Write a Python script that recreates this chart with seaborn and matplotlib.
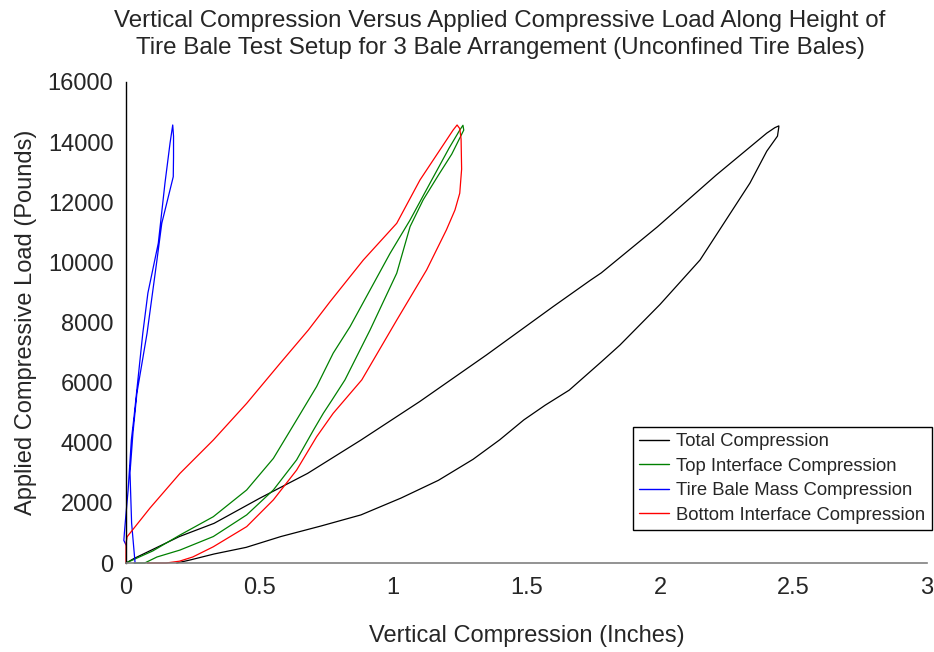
import pandas as pd
import seaborn as sns
import matplotlib.pyplot as plt

# values (inches, pounds); each series is one loading/unloading loop
total_x = [0.0, 0.03, 0.10, 0.20, 0.33, 0.50, 0.68, 0.88, 1.10, 1.35, 1.60, 1.74, 1.78, 1.99, 2.21, 2.40,
           2.43, 2.445, 2.445, 2.44, 2.40, 2.337, 2.15, 2.0, 1.85, 1.78, 1.66, 1.57, 1.49, 1.40, 1.30,
           1.17, 1.03, 0.88, 0.73, 0.58, 0.45, 0.33, 0.24, 0.19]
total_y = [0, 150, 450, 880, 1320, 2150, 2980, 4090, 5370, 6920, 8530, 9410, 9650, 11180, 12900, 14300,
           14480, 14540, 14500, 14200, 13700, 12640, 10080, 8600, 7250, 6690, 5750, 5250, 4760, 4100, 3450,
           2750, 2160, 1600, 1230, 880, 520, 300, 100, 0]

top_x = [0.0, 0.05, 0.10, 0.202, 0.327, 0.452, 0.552, 0.639, 0.714, 0.776, 0.839, 0.914, 0.989, 1.064,
         1.145, 1.21, 1.25, 1.262, 1.265, 1.22, 1.17, 1.113, 1.064, 1.014, 0.914, 0.82, 0.77, 0.739,
         0.702, 0.639, 0.552, 0.452, 0.327, 0.202, 0.116, 0.07, 0.03]
top_y = [0, 200, 400, 930, 1540, 2430, 3480, 4760, 5870, 6980, 7860, 9080, 10300, 11410,
         12740, 13800, 14400, 14560, 14400, 13600, 12900, 12080, 11190, 9640, 7750, 6090, 5400, 4980,
         4420, 3430, 2430, 1600, 880, 430, 200, 0, 0]

mass_x = [0.0, -0.008, -0.006, -0.002, 0.008, 0.02, 0.03, 0.063, 0.082, 0.121, 0.146, 0.165, 0.175,
          0.178, 0.178, 0.177, 0.134, 0.116, 0.079, 0.041, 0.026, 0.015, 0.021, 0.034]
mass_y = [600, 750, 1000, 1430, 2430, 4090, 4860, 7650, 8980, 10640, 12640, 13970, 14570,
          14200, 13500, 12850, 11300, 10080, 7650, 5660, 4320, 3000, 1330, 0]

bottom_x = [0.0, 0.0, 0.004, 0.09, 0.202, 0.327, 0.452, 0.577, 0.683, 0.764, 0.889, 1.014, 1.101, 1.225,
            1.24, 1.25, 1.255, 1.257, 1.25, 1.232, 1.20, 1.126, 1.014, 0.883, 0.776, 0.714, 0.639,
            0.552, 0.452, 0.327, 0.25, 0.20, 0.15, 0.08]
bottom_y = [0, 650, 870, 1830, 2980, 4090, 5310, 6640, 7750, 8690, 10080, 11300, 12740, 14400,
            14570, 14450, 14100, 13100, 12300, 11740, 11080, 9750, 8080, 6090, 4980, 4200, 3090,
            2100, 1210, 540, 200, 60, 0, 0]

series_names = ["Total Compression", "Top Interface Compression",
                "Tire Bale Mass Compression", "Bottom Interface Compression"]
series_colors = ["#000000", "#008000", "#0000FF", "#FF0000"]
x_ticks = [0, 0.5, 1, 1.5, 2, 2.5, 3]
x_tick_labels = ["0", "0.5", "1", "1.5", "2", "2.5", "3"]
y_ticks = [0, 2000, 4000, 6000, 8000, 10000, 12000, 14000, 16000]
y_tick_labels = ["0", "2000", "4000", "6000", "8000", "10000", "12000", "14000", "16000"]

sns.set_style("white")
plt.rcParams['font.family'] = ['Liberation Sans', 'DejaVu Sans']

frames = []
for name, xs, ys in zip(series_names, [total_x, top_x, mass_x, bottom_x],
                        [total_y, top_y, mass_y, bottom_y]):
    frames.append(pd.DataFrame({"x": xs, "y": ys, "series": name, "step": range(len(xs))}))
df = pd.concat(frames, ignore_index=True)

fig = plt.figure(figsize=(9.34, 6.52), dpi=100)
ax = fig.add_axes([126 / 934, 1 - 563 / 652, (927 - 126) / 934, (563 - 82) / 652])

sns.lineplot(data=df, x="x", y="y", hue="series", hue_order=series_names,
             palette=dict(zip(series_names, series_colors)), sort=False, estimator=None,
             linewidth=0.9, ax=ax)
for line in ax.lines:
    line.set_clip_on(False)
    line.set_solid_joinstyle("round")

ax.set_xlim(0, 3)
ax.set_ylim(0, 16000)
ax.set_xticks(x_ticks)
ax.set_xticklabels(x_tick_labels)
ax.set_yticks(y_ticks)
ax.set_yticklabels(y_tick_labels)
ax.tick_params(axis="both", labelsize=17, length=5, width=1, direction="out", pad=4)
ax.tick_params(axis="x", color="#808080", pad=5)
ax.tick_params(axis="y", color="#000000")

sns.despine(ax=ax)
ax.spines["left"].set_color("#000000")
ax.spines["bottom"].set_color("#808080")
ax.spines["left"].set_linewidth(1)
ax.spines["bottom"].set_linewidth(1.2)

ax.set_xlabel("Vertical Compression (Inches)", fontsize=17, labelpad=19)
ax.set_ylabel("Applied Compressive Load (Pounds)", fontsize=17, labelpad=8)

fig.text(500 / 934, 1 - 10 / 652,
         "Vertical Compression Versus Applied Compressive Load Along Height of\n"
         "Tire Bale Test Setup for 3 Bale Arrangement (Unconfined Tire Bales)",
         ha="center", va="top", fontsize=17.4, linespacing=1.3)

handles, labels = ax.get_legend_handles_labels()
leg = ax.legend(handles, labels, loc="upper right", bbox_to_anchor=(932 / 934, 1 - 427 / 652),
                bbox_transform=fig.transFigure, fontsize=13.3, frameon=True, fancybox=False,
                edgecolor="#000000", framealpha=1, borderpad=0.35, labelspacing=0.4,
                handlelength=1.6, handletextpad=0.4, borderaxespad=0)
leg.get_frame().set_linewidth(1)
for h in leg.get_lines():
    h.set_linewidth(1)

fig.savefig("out.png", dpi=100)
